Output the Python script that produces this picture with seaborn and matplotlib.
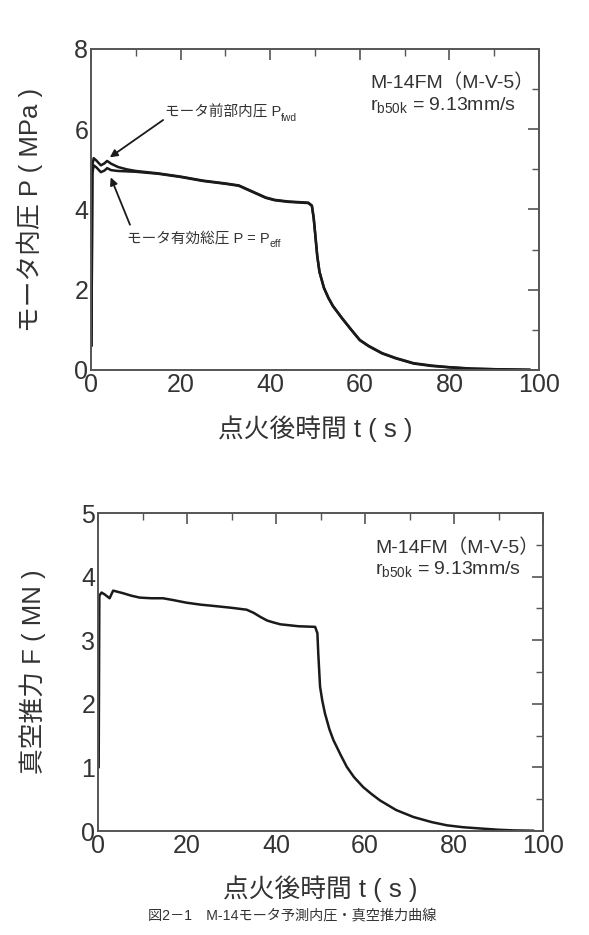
import matplotlib
matplotlib.use("Agg")
import matplotlib.pyplot as plt
from matplotlib.ticker import MultipleLocator
import seaborn as sns
import pandas as pd

# motor pressure (MPa) vs time after ignition (s)
t_p = [0.1, 0.3, 0.6, 1.2, 2.2, 3.0, 3.6, 4.5, 6.0, 8.0, 10, 15, 20, 25, 30, 33, 35, 37, 39, 41,
       44, 48.5, 49.3, 49.7, 50.0, 50.5, 51.0, 52, 53, 54, 56, 58, 60, 62, 65, 68, 72, 76, 80,
       85, 90, 95, 98]
p_fwd = [0.6, 5.1, 5.28, 5.22, 5.1, 5.15, 5.21, 5.14, 5.06, 5.0, 4.96, 4.9, 4.82, 4.72, 4.65,
         4.6, 4.5, 4.4, 4.3, 4.24, 4.2, 4.17, 4.1, 3.8, 3.45, 2.85, 2.45, 2.05, 1.8, 1.6, 1.3,
         1.02, 0.75, 0.6, 0.42, 0.3, 0.17, 0.11, 0.07, 0.035, 0.02, 0.01, 0.005]
p_eff = [0.6, 4.9, 5.1, 5.05, 4.93, 4.97, 5.03, 4.98, 4.96, 4.95, 4.94, 4.89, 4.81, 4.71, 4.64,
         4.59, 4.49, 4.39, 4.29, 4.23, 4.19, 4.16, 4.09, 3.79, 3.44, 2.84, 2.44, 2.04, 1.79, 1.59,
         1.29, 1.01, 0.74, 0.59, 0.41, 0.29, 0.16, 0.1, 0.065, 0.03, 0.018, 0.009, 0.004]

# vacuum thrust (MN)
t_f = [0.15, 0.3, 0.8, 1.5, 2.6, 3.4, 4.5, 5.6, 7.5, 9.4, 12, 14.6, 17, 19.9, 23, 25.9, 30,
       33.4, 35, 36.4, 38, 39.4, 41, 42.4, 45, 48.8, 49.3, 49.5, 49.9, 50.4, 51, 52, 52.9,
       54.5, 55.9, 57.5, 59.6, 61.5, 63.4, 67, 70.9, 75, 78.4, 82, 85.9, 90, 93.4, 97.9]
thrust = [1.0, 3.7, 3.75, 3.72, 3.66, 3.78, 3.76, 3.74, 3.7, 3.67, 3.66, 3.66, 3.63, 3.59,
          3.56, 3.54, 3.51, 3.48, 3.43, 3.37, 3.31, 3.28, 3.25, 3.24, 3.22, 3.21, 3.11, 2.79,
          2.27, 2.05, 1.85, 1.6, 1.43, 1.2, 1.01, 0.85, 0.69, 0.58, 0.48, 0.33, 0.22, 0.14,
          0.09, 0.06, 0.04, 0.02, 0.01, 0.005]

sns.set_theme(style="white")
plt.rcParams['font.family'] = ['Liberation Sans', 'Noto Sans CJK JP', 'DejaVu Sans']
plt.rcParams['mathtext.fontset'] = 'custom'
plt.rcParams['mathtext.rm'] = 'Liberation Sans'
plt.rcParams['mathtext.it'] = 'Liberation Sans'

txt = '#333333'
edge = '#555555'
line_c = '#1a1a1a'

fig = plt.figure(figsize=(5.89, 9.35), dpi=100)
ax1 = fig.add_axes([0.1545, 0.6043, 0.7606, 0.3433])
ax2 = fig.add_axes([0.1664, 0.1112, 0.7555, 0.3401])

df_p = pd.DataFrame({'t': t_p, 'fwd': p_fwd, 'eff': p_eff})
df_f = pd.DataFrame({'t': t_f, 'F': thrust})

sns.lineplot(data=df_p, x='t', y='fwd', ax=ax1, color=line_c, lw=1.8, sort=False, estimator=None)
sns.lineplot(data=df_p, x='t', y='eff', ax=ax1, color=line_c, lw=1.8, sort=False, estimator=None)
sns.lineplot(data=df_f, x='t', y='F', ax=ax2, color=line_c, lw=1.8, sort=False, estimator=None)


def style(ax, ymax, ymaj, ymin, ylab):
    ax.set_xlim(0, 100)
    ax.set_ylim(0, ymax)
    ax.xaxis.set_major_locator(MultipleLocator(20))
    ax.xaxis.set_minor_locator(MultipleLocator(10))
    ax.yaxis.set_major_locator(MultipleLocator(ymaj))
    ax.yaxis.set_minor_locator(MultipleLocator(ymin))
    ax.tick_params(which='both', direction='in', top=True, right=True, colors=edge,
                   labelcolor=txt, labelsize=18, pad=2)
    ax.tick_params(which='major', length=8, width=1.2)
    ax.tick_params(which='minor', length=5, width=1.0)
    for s in ax.spines.values():
        s.set_color(edge)
        s.set_linewidth(1.4)
    ax.set_xlabel('点火後時間 t ( s )', fontsize=18.5, color=txt)
    ax.set_ylabel(ylab, fontsize=18.5, color=txt)
    ax.xaxis.set_label_coords(0.5, -0.14)


style(ax1, 8, 2, 1, 'モータ内圧 P ( MPa )')
ax1.yaxis.set_label_coords(-0.107, 0.5)
style(ax2, 5, 1, 0.5, '真空推力 F ( MN )')
ax2.yaxis.set_label_coords(-0.117, 0.5)

for ax, y1, y2 in [(ax1, 7.15, 6.6), (ax2, 4.45, 4.12)]:
    ax.text(62.3, y1, 'M-14FM（M-V-5）', fontsize=14, color=txt, va='center', ha='left')
    ax.text(62.3, y2, r'r$_{\rm b50k}$ = 9.13mm/s', fontsize=14, color=txt, va='center', ha='left')

# labels with pointer arrows
arrow = dict(arrowstyle='-|>', color=line_c, lw=1.3, shrinkA=0, shrinkB=0, mutation_scale=11)
t1 = ax1.text(16.5, 6.42, 'モータ前部内圧 P', fontsize=10.5, color=txt, va='center', ha='left')
ax1.annotate('fwd', xy=(1.0, 0.1), xycoords=t1, fontsize=7.5, color=txt, va='center', ha='left')
ax1.annotate('', xy=(4.2, 5.3), xytext=(16.1, 6.23), arrowprops=arrow)

t2 = ax1.text(8.0, 3.28, 'モータ有効総圧 P = P', fontsize=10.5, color=txt, va='center', ha='left')
ax1.annotate('eff', xy=(1.0, 0.1), xycoords=t2, fontsize=7.5, color=txt, va='center', ha='left')
ax1.annotate('', xy=(4.4, 4.8), xytext=(8.7, 3.62), arrowprops=arrow)

fig.text(0.496, 0.0214, '図2－1　M-14モータ予測内圧・真空推力曲線', fontsize=10.2,
         color=txt, ha='center', va='center')

fig.savefig('out.png', dpi=100)
